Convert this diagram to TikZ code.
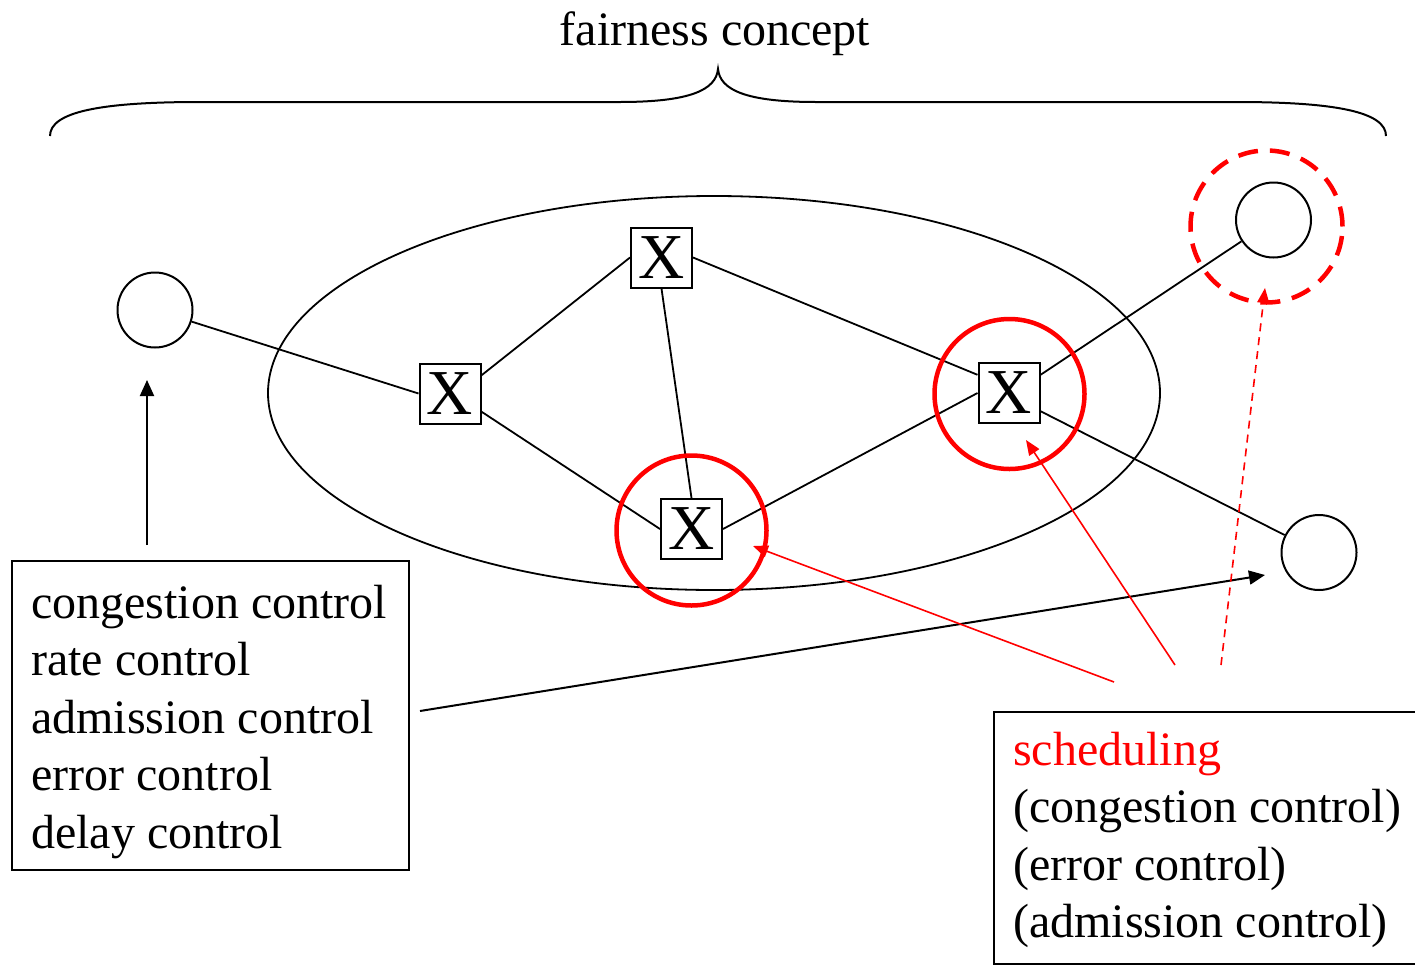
\documentclass[tikz,border=0pt]{standalone}
\usepackage{fontspec}
\setmainfont{Liberation Serif}
\usetikzlibrary{arrows.meta,shapes.geometric}
\begin{document}
\begin{tikzpicture}[x=1pt,y=-1pt,
  lbl/.style={anchor=base west, inner sep=0pt, font=\fontsize{48}{57}\selectfont},
  xbox/.style={draw, line width=2pt, fill=white, minimum width=61pt, minimum height=60pt, inner sep=0pt, font=\fontsize{64}{64}\selectfont},
  host/.style={draw, circle, line width=2pt, minimum size=75pt, inner sep=0pt},
  link/.style={line width=1.8pt},
  hl/.style={circle, draw=red, line width=4.5pt, minimum size=150pt, inner sep=0pt},
  textbox/.style={draw, line width=2pt, anchor=north west, inner sep=0pt},
  blackarrow/.style={line width=2pt, -{Triangle[length=16pt,width=14pt]}},
  redarrow/.style={draw=red, line width=1.6pt, -{Triangle[length=15pt,width=12pt]}, red},
]
\useasboundingbox (0,0) rectangle (1415,964);

% title and brace
\node[anchor=base, inner sep=0pt, font=\fontsize{48}{57}\selectfont] (title) at (715,45) {fairness concept};
\draw[line width=2pt] (50,136) .. controls (50,112) and (100,102) .. (200,102)
  -- (620,102) .. controls (690,102) and (716,90) .. (718,69)
  .. controls (720,90) and (746,102) .. (816,102)
  -- (1236,102) .. controls (1336,102) and (1386,112) .. (1386,136);

% network region
\node[draw, ellipse, line width=1.8pt, minimum width=892pt, minimum height=394pt, inner sep=0pt] (net) at (714,393) {};

% hosts
\node[host] (hL) at (155,310) {};
\node[host] (hTR) at (1273.5,220) {};
\node[host] (hBR) at (1319,552.5) {};

% switches
\node[xbox] (x1) at (450,393.5) {X};
\node[xbox] (x2) at (661.5,257.5) {X};
\node[xbox] (x3) at (691.5,529) {X};
\node[xbox] (x4) at (1009,393) {X};

% links
\draw[link] (hL) -- (x1.west);
\draw[link] (x1.30) -- (x2.west);
\draw[link] (x1.-30) -- (x3.west);
\draw[link] (x2.south) -- (x3.north);
\draw[link] (x2.east) -- (x4.150);
\draw[link] (x3.east) -- (x4.west);
\draw[link] (x4.30) -- (hTR);
\draw[link] (x4.-30) -- (hBR);

% highlights
\node[hl] (c3) at (691.5,530.5) {};
\node[hl] (c4) at (1009.5,394) {};
\node[hl, dash pattern=on 20pt off 12pt, minimum size=152pt] (cTR) at (1266.5,226.5) {};

% left text box
\node[textbox, minimum width=397pt, minimum height=309pt] (lbox) at (11,560) {};
\node[lbl] (l1) at (31,618) {congestion control};
\node[lbl] (l2) at (31,675.5) {rate control};
\node[lbl] (l3) at (31,733) {admission control};
\node[lbl] (l4) at (31,790.5) {error control};
\node[lbl] (l5) at (31,848) {delay control};

% right text box
\node[textbox, minimum width=450pt, minimum height=252pt] (rbox) at (993,711) {};
\node[lbl, text=red] (r1) at (1013,765) {scheduling};
\node[lbl] (r2) at (1013,822.5) {(congestion control)};
\node[lbl] (r3) at (1013,880) {(error control)};
\node[lbl] (r4) at (1013,937.5) {(admission control)};

% arrows
\coordinate (aS1) at (147,545);
\coordinate (aE1) at (147,380);
\draw[blackarrow] (aS1) -- (aE1);
\coordinate (aS2) at (420,711);
\coordinate (aE2) at (1265,575);
\draw[blackarrow] (aS2) -- (aE2);

\coordinate (rS1) at (1114,682);
\coordinate (rE1) at (753,546);
\draw[redarrow] (rS1) -- (rE1);
\coordinate (rS2) at (1175,665);
\coordinate (rE2) at (1026,440);
\draw[redarrow] (rS2) -- (rE2);
\coordinate (rS3) at (1221,665);
\coordinate (rE3) at (1265,288);
\draw[redarrow, dash pattern=on 8pt off 6pt] (rS3) -- (rE3);
\end{tikzpicture}
\end{document}
